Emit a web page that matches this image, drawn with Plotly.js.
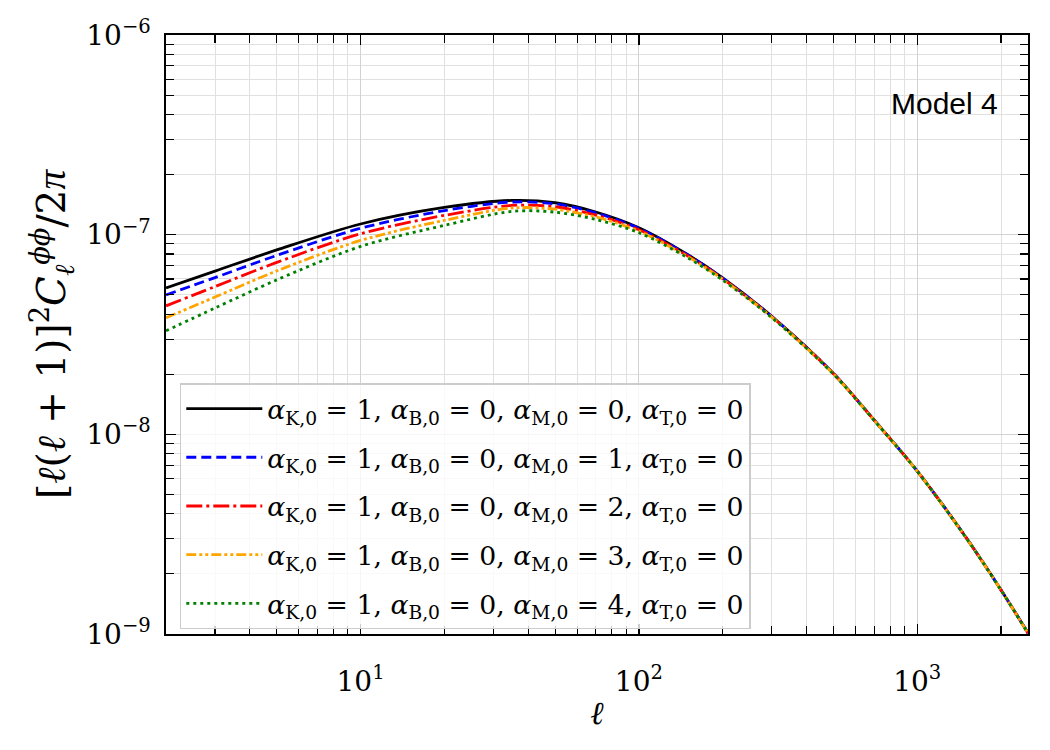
<!DOCTYPE html>
<html>
<head>
<meta charset="utf-8">
<script src="https://cdn.plot.ly/plotly-3.0.1.min.js"></script>
<style>html,body{margin:0;padding:0;background:#fff}</style>
</head>
<body>
<div id="chart" style="width:1050px;height:750px"></div>
<script>
// Lensing potential power spectrum [l(l+1)]^2 C_l^{phi phi} / 2pi for several alpha_M,0
const ell = [2, 3, 5, 10, 20, 35, 50, 70, 100, 150, 200, 300, 500, 700, 1000, 1500, 2000, 2500];

const clM0 = [5.414e-8, 6.57e-8, 8.385e-8, 1.131e-7, 1.369e-7, 1.484e-7, 1.445e-7, 1.299e-7, 1.084e-7,
              7.94e-8, 6.074e-8, 3.904e-8, 2.018e-8, 1.180e-8, 6.55e-9, 3.034e-9, 1.663e-9, 1.012e-9];
const clM1 = [4.995e-8, 6.095e-8, 7.87e-8, 1.076e-7, 1.320e-7, 1.457e-7, 1.426e-7, 1.285e-7, 1.076e-7,
              7.907e-8, 6.053e-8, 3.895e-8, 2.016e-8, 1.179e-8, 6.55e-9, 3.034e-9, 1.663e-9, 1.012e-9];
const clM2 = [4.401e-8, 5.495e-8, 7.261e-8, 1.010e-7, 1.249e-7, 1.401e-7, 1.380e-7, 1.254e-7, 1.059e-7,
              7.825e-8, 6.012e-8, 3.882e-8, 2.011e-8, 1.178e-8, 6.546e-9, 3.030e-9, 1.661e-9, 1.010e-9];
const clM3 = [3.833e-8, 4.870e-8, 6.585e-8, 9.354e-8, 1.179e-7, 1.360e-7, 1.341e-7, 1.226e-7, 1.042e-7,
              7.745e-8, 5.970e-8, 3.864e-8, 2.007e-8, 1.176e-8, 6.539e-9, 3.027e-9, 1.660e-9, 1.009e-9];
const clM4 = [3.300e-8, 4.291e-8, 5.936e-8, 8.730e-8, 1.113e-7, 1.308e-7, 1.296e-7, 1.191e-7, 1.023e-7,
              7.647e-8, 5.916e-8, 3.842e-8, 2.000e-8, 1.174e-8, 6.531e-9, 3.023e-9, 1.658e-9, 1.008e-9];

const alphaM = [0, 1, 2, 3, 4];
const series = [clM0, clM1, clM2, clM3, clM4];

const xTickVals = [10, 100, 1000];
const xTickText = ['10<sup>1</sup>', '10<sup>2</sup>', '10<sup>3</sup>'];
const yTickVals = [1e-9, 1e-8, 1e-7, 1e-6];
const yTickText = ['10<sup>−9</sup>', '10<sup>−8</sup>', '10<sup>−7</sup>', '10<sup>−6</sup>'];

const colors = ['#000000', '#0000ff', '#ff0000', '#ffa500', '#008000'];
const dashes = ['solid', '10px,5px', '16px,4px,3px,4px', '10px,3px,3px,3px,3px,3px', '3px,4px'];

function label(m) {
  return '<i>α</i><sub>K,0</sub> = 1, <i>α</i><sub>B,0</sub> = 0, <i>α</i><sub>M,0</sub> = ' + m +
         ', <i>α</i><sub>T,0</sub> = 0';
}

const traces = series.map((y, i) => ({
  x: ell,
  y: y,
  type: 'scatter',
  mode: 'lines',
  name: label(alphaM[i]),
  legendgroup: 'g' + i,
  line: {color: colors[i], width: 2.8, dash: dashes[i], shape: 'spline', smoothing: 0.9}
}));

// minor ticks at 2..9 times each power of ten
function minorVals(lo, hi) {
  const out = [];
  for (let p = lo; p <= hi; p++) {
    for (let k = 2; k <= 9; k++) out.push(k * Math.pow(10, p));
  }
  return out;
}

const serif = 'DejaVu Serif, Liberation Serif, serif';

const layout = {
  width: 1050,
  height: 750,
  margin: {l: 166, r: 22, t: 35, b: 116},
  paper_bgcolor: '#ffffff',
  plot_bgcolor: '#ffffff',
  font: {family: serif, color: '#000000', size: 26},
  showlegend: true,
  legend: {
    x: 0.016, y: 0.008, xanchor: 'left', yanchor: 'bottom',
    bgcolor: 'rgba(255,255,255,0.8)',
    bordercolor: '#cccccc', borderwidth: 1.5,
    font: {family: serif, size: 26.7, color: '#000000'},
    tracegroupgap: 11,
    itemwidth: 76
  },
  xaxis: {
    type: 'log',
    range: [Math.log10(2), Math.log10(2500)],
    tickmode: 'array', tickvals: xTickVals, ticktext: xTickText,
    ticks: 'inside', ticklen: 10, tickwidth: 1.3, tickcolor: '#000',
    ticklabelstandoff: 22,
    tickfont: {family: serif, size: 28},
    showline: true, linecolor: '#000', linewidth: 1.6, mirror: 'allticks',
    showgrid: true, gridcolor: '#d2d2d2', gridwidth: 1,
    zeroline: false,
    minor: {
      tickmode: 'array', tickvals: minorVals(0, 3),
      ticks: 'inside', ticklen: 8, tickwidth: 1.1, tickcolor: '#000',
      showgrid: true, gridcolor: '#e0e0e0', gridwidth: 1
    },
    title: {text: '<i>ℓ</i>', font: {family: serif, size: 32}, standoff: 4}
  },
  yaxis: {
    type: 'log',
    range: [-9, -6],
    tickmode: 'array', tickvals: yTickVals, ticktext: yTickText,
    ticks: 'inside', ticklen: 10, tickwidth: 1.3, tickcolor: '#000',
    ticklabelstandoff: 8,
    tickfont: {family: serif, size: 28},
    showline: true, linecolor: '#000', linewidth: 1.6, mirror: 'allticks',
    showgrid: true, gridcolor: '#d2d2d2', gridwidth: 1,
    zeroline: false,
    minor: {
      tickmode: 'array', tickvals: minorVals(-9, -7),
      ticks: 'inside', ticklen: 8, tickwidth: 1.1, tickcolor: '#000',
      showgrid: true, gridcolor: '#e0e0e0', gridwidth: 1
    },
    title: {
      text: '[<i>ℓ</i>(<i>ℓ</i> + 1)]<sup>2</sup><i>C</i><sub><i>ℓ</i></sub><sup><i>ϕϕ</i></sup>/2' +
            '<span style="font-family:Liberation Serif"><i>π</i></span>',
      font: {family: serif, size: 39}, standoff: 8
    }
  },
  annotations: [{
    text: 'Model 4',
    xref: 'paper', yref: 'paper',
    x: 0.967, y: 0.885, xanchor: 'right', yanchor: 'middle',
    showarrow: false,
    font: {family: 'Liberation Sans, Arial, sans-serif', size: 30, color: '#000'}
  }]
};

Plotly.newPlot('chart', traces, layout, {displayModeBar: false, staticPlot: true});
</script>
</body>
</html>
